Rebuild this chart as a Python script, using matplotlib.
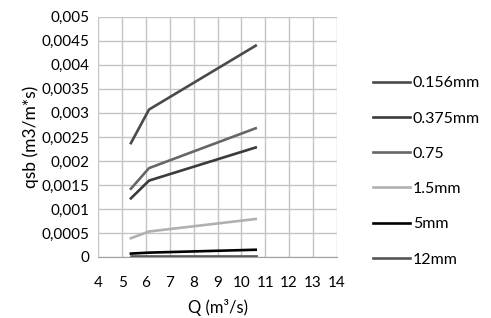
import matplotlib.pyplot as plt
from matplotlib.ticker import FuncFormatter, MultipleLocator

# Discharge Q (m3/s) and bedload transport qsb (m3/m*s) per grain size
q = [5.37, 6.13, 10.6]
qsb_0156 = [0.00237, 0.00307, 0.00440]
qsb_0375 = [0.00122, 0.00159, 0.00228]
qsb_075 = [0.00142, 0.00185, 0.00268]
qsb_15 = [0.00039, 0.00053, 0.00079]
qsb_5 = [0.00007, 0.00009, 0.00015]
qsb_12 = [0.00001, 0.00001, 0.00001]

labels = ['0.156mm', '0.375mm', '0.75', '1.5mm', '5mm', '12mm']
colors = ['#4a4a4a', '#3a3a3a', '#666666', '#b0b0b0', '#000000', '#555555']
series = [qsb_0156, qsb_0375, qsb_075, qsb_15, qsb_5, qsb_12]

plt.rcParams['font.family'] = ['Lato', 'DejaVu Sans']

fig = plt.figure(figsize=(4.91, 3.18), dpi=100)
ax = fig.add_axes([0.2, 0.192, 0.486, 0.755])

for vals, lab, col in zip(series, labels, colors):
    ax.plot(q, vals, color=col, lw=1.9, label=lab)

ax.set_xlim(4, 14)
ax.set_ylim(0, 0.005)
ax.xaxis.set_major_locator(MultipleLocator(1))
ax.yaxis.set_major_locator(MultipleLocator(0.0005))
ax.yaxis.set_major_formatter(FuncFormatter(lambda v, p: f"{v:g}".replace('.', ',')))
ax.grid(True, color='#c4c4c4', lw=1)
ax.set_axisbelow(True)
for s in ['top', 'right', 'left']:
    ax.spines[s].set_visible(False)
ax.spines['bottom'].set_color('#a0a0a0')
ax.tick_params(length=0, labelsize=11, pad=6)
ax.tick_params(axis='x', pad=14)

ax.set_xlabel('Q (m³/s)', fontsize=12, labelpad=6)
ax.set_ylabel('qsb (m3/m*s)', fontsize=12.5, labelpad=2)

fig.legend(loc='upper left', bbox_to_anchor=(0.73, 0.806), frameon=False,
           fontsize=11.5, handlelength=2.3, handletextpad=0.2, labelspacing=1.32)

plt.savefig('out.png', dpi=100)
